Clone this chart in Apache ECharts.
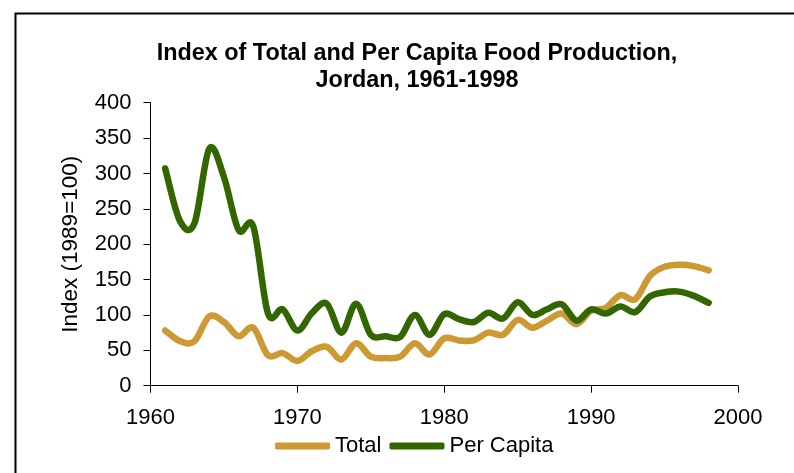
<!DOCTYPE html>
<html>
<head>
<meta charset="utf-8">
<script src="https://cdn.jsdelivr.net/npm/echarts@6/dist/echarts.min.js"></script>
<style>
html,body{margin:0;padding:0;background:#fff;}
#chart{width:794px;height:473px;}
</style>
</head>
<body>
<div id="chart"></div>
<script>
const titleLines = ['Index of Total and Per Capita Food Production,', 'Jordan, 1961-1998'];
const yAxisName = 'Index (1989=100)';
const seriesNames = ['Total', 'Per Capita'];
const years = [1961,1962,1963,1964,1965,1966,1967,1968,1969,1970,1971,1972,1973,1974,1975,1976,1977,1978,1979,1980,1981,1982,1983,1984,1985,1986,1987,1988,1989,1990,1991,1992,1993,1994,1995,1996,1997,1998];
const totalValues = [78,63,63,98,90,70,82,43,46,35,49,55,37,60,41,39,41,60,44,67,64,64,75,72,93,82,92,102,87,106,110,128,122,155,168,171,169,163];
const perCapitaValues = [307,233,230,335,295,220,225,102,108,78,103,116,75,116,72,70,69,100,72,101,94,90,103,95,118,100,108,115,92,108,102,112,104,126,132,133,127,117];
const xTicks = {min:1960, max:2000, interval:10};
const yTicks = {min:0, max:400, interval:50};

const FONT = '"Liberation Sans", Arial, Helvetica, sans-serif';
const pairs = (vals) => years.map((y, i) => [y, vals[i]]);

// Smooth (Catmull-Rom style, like spreadsheet smoothed lines) path through
// points converted by the chart's own axes via api.coord.
function smoothRender(values, color) {
  return function (params, api) {
    if (params.dataIndex !== 0) return null;
    const p = years.map((y, i) => api.coord([y, values[i]]));
    const n = p.length;
    let d = 'M' + p[0][0] + ' ' + p[0][1];
    for (let i = 0; i < n - 1; i++) {
      const p0 = p[Math.max(i - 1, 0)], p1 = p[i], p2 = p[i + 1], p3 = p[Math.min(i + 2, n - 1)];
      const c1x = p1[0] + (p2[0] - p0[0]) / 6, c1y = p1[1] + (p2[1] - p0[1]) / 6;
      const c2x = p2[0] - (p3[0] - p1[0]) / 6, c2y = p2[1] - (p3[1] - p1[1]) / 6;
      d += ' C' + c1x + ' ' + c1y + ' ' + c2x + ' ' + c2y + ' ' + p2[0] + ' ' + p2[1];
    }
    return {
      type: 'path',
      shape: { pathData: d },
      style: { fill: 'none', stroke: color, lineWidth: 6.5, lineCap: 'round', lineJoin: 'round' }
    };
  };
}

const chart = echarts.init(document.getElementById('chart'), null, {renderer:'canvas'});
chart.setOption({
  backgroundColor:'#fff',
  animation:false,
  graphic:[{
    type:'rect', shape:{x:15.5, y:13.5, width:820, height:500},
    style:{fill:'none', stroke:'#000', lineWidth:2}, silent:true, z:-1
  }],
  title:{
    text: titleLines.join('\n'),
    left: 412, textAlign:'center', top: 35,
    textStyle:{fontFamily:FONT, fontSize:23.4, fontWeight:'bold', color:'#000', lineHeight:27}
  },
  legend:{
    data: seriesNames,
    left: 275, top: 435, padding:0,
    icon:'roundRect', itemWidth:55, itemHeight:7, itemGap:8,
    textStyle:{fontFamily:FONT, fontSize:22, color:'#000'}
  },
  grid:{left:150.5, right:56, top:102.7, bottom:87.3, containLabel:false},
  xAxis:{
    type:'value', min:xTicks.min, max:xTicks.max, interval:xTicks.interval,
    axisLine:{show:true, lineStyle:{color:'#000', width:1}},
    axisTick:{show:true, length:7, lineStyle:{color:'#000'}},
    axisLabel:{fontFamily:FONT, fontSize:22, color:'#000', margin:21, formatter:(v) => String(v)},
    splitLine:{show:false}
  },
  yAxis:{
    type:'value', min:yTicks.min, max:yTicks.max, interval:yTicks.interval,
    name: yAxisName, nameLocation:'middle', nameGap:68,
    nameTextStyle:{fontFamily:FONT, fontSize:22.5, color:'#000'},
    axisLine:{show:true, lineStyle:{color:'#000', width:1}},
    axisTick:{show:true, length:7, lineStyle:{color:'#000'}},
    axisLabel:{fontFamily:FONT, fontSize:22, color:'#000', margin:19},
    splitLine:{show:false}
  },
  series:[
    {name:seriesNames[0], type:'custom', data:pairs(totalValues),
     renderItem: smoothRender(totalValues, '#CD9933'),
     itemStyle:{color:'#CD9933'}, encode:{x:0, y:1}, z:2},
    {name:seriesNames[1], type:'custom', data:pairs(perCapitaValues),
     renderItem: smoothRender(perCapitaValues, '#336600'),
     itemStyle:{color:'#336600'}, encode:{x:0, y:1}, z:3}
  ]
});
</script>
</body>
</html>
